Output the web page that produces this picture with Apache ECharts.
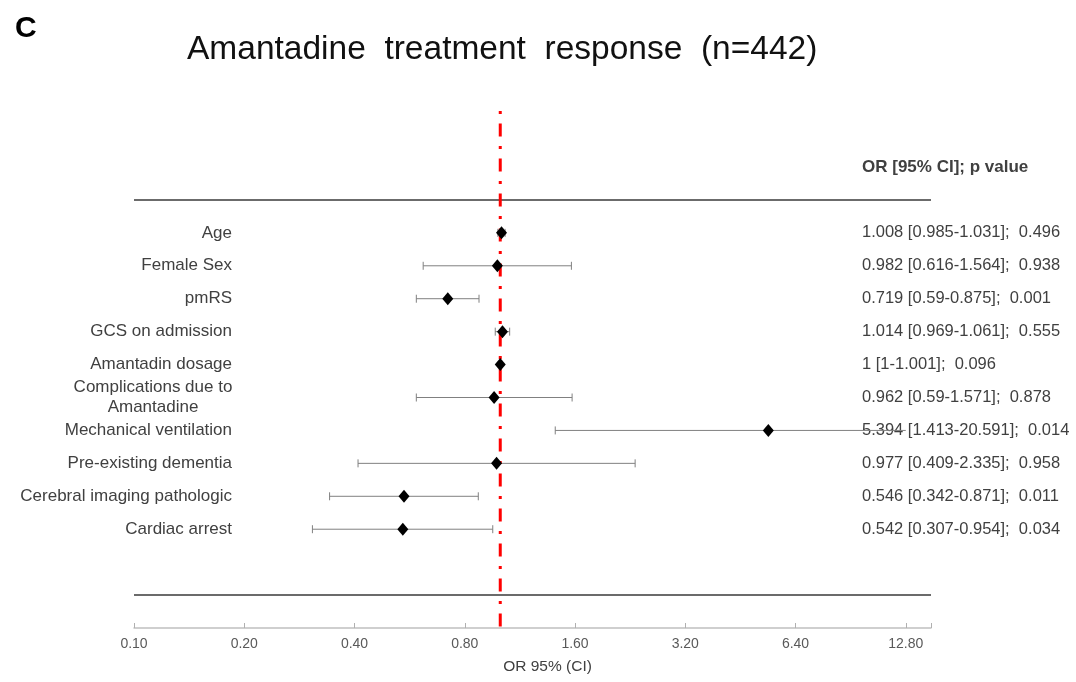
<!DOCTYPE html>
<html>
<head>
<meta charset="utf-8">
<script src="https://cdn.jsdelivr.net/npm/echarts@6/dist/echarts.min.js"></script>
<style>
html,body{margin:0;padding:0;background:#fff;}
#chart{width:1076px;height:682px;}
</style>
</head>
<body>
<div id="chart"></div>
<script>
const categories = ['Age','Female Sex','pmRS','GCS on admission','Amantadin dosage','Complications due to\nAmantadine','Mechanical ventilation','Pre-existing dementia','Cerebral imaging pathologic','Cardiac arrest'];
const orValues = [1.008,0.982,0.719,1.014,1,0.962,5.394,0.977,0.546,0.542];
const ciLow = [0.985,0.616,0.59,0.969,1,0.59,1.413,0.409,0.342,0.307];
const ciHigh = [1.031,1.564,0.875,1.061,1.001,1.571,20.591,2.335,0.871,0.954];
const pValues = ['0.496','0.938','0.001','0.555','0.096','0.878','0.014','0.958','0.011','0.034'];
const tickLabels = ['0.10','0.20','0.40','0.80','1.60','3.20','6.40','12.80'];
const AXIS_MIN = 0.1, AXIS_MAX = 15, CLIP_MAX = 12.8, REF_OR = 1;

const FONT = "'Liberation Sans', Arial, sans-serif";
const toT = v => Math.log2(v / AXIS_MIN);
const yCats = ['__header','__top'].concat(categories, ['__gap','__bottom','__axis']);

const scatterData = categories.map((c,i)=>[toT(orValues[i]), i+2]);
const ciData = categories.map((c,i)=>[toT(ciLow[i]), toT(Math.min(ciHigh[i], CLIP_MAX)), i+2, ciHigh[i] > CLIP_MAX ? 1 : 0]);

const chart = echarts.init(document.getElementById('chart'), null, {renderer:'canvas'});
const option = {
  backgroundColor:'#fff',
  animation:false,
  title:[
    {text:'C', left:10, top:9, textStyle:{fontFamily:FONT, fontSize:30, fontWeight:'bold', color:'#000'}},
    {text:'Amantadine  treatment  response  (n=442)', left:182, top:28, textStyle:{fontFamily:FONT, fontSize:33.5, fontWeight:'normal', color:'#111'}}
  ],
  grid:[
    {left:134, right:145, top:167, bottom:54},
    {left:134, right:145, top:111, bottom:54}
  ],
  xAxis:[
    {type:'value', gridIndex:0, min:0, max:toT(AXIS_MAX), interval:1,
     axisLine:{show:true, onZero:false, lineStyle:{color:'#c0c0c0', width:1.5}},
     axisTick:{show:true, inside:true, length:5, lineStyle:{color:'#b0b0b0'}},
     splitLine:{show:false},
     axisLabel:{color:'#595959', fontSize:14, fontFamily:FONT, margin:9,
       formatter:v=>{const r=Math.round(v); return Math.abs(v-r)<1e-6 && tickLabels[r]!==undefined ? tickLabels[r] : '';}},
     name:'OR 95% (CI)', nameLocation:'middle', nameGap:31,
     nameTextStyle:{fontSize:15.5, color:'#404040', fontFamily:FONT, padding:[0,0,0,30]}
    },
    {type:'value', gridIndex:1, min:0, max:toT(AXIS_MAX), show:false}
  ],
  yAxis:[
    {type:'category', gridIndex:0, data:yCats, inverse:true, boundaryGap:false, position:'left', offset:-98,
     axisLine:{show:false}, axisTick:{show:false}, splitLine:{show:false},
     axisLabel:{interval:0, margin:0, color:'#404040', fontSize:17, fontFamily:FONT,
       formatter:(name)=>{
         if (name.indexOf('__')===0) return '';
         if (name.indexOf('\n')>=0) return name.split('\n').map(s=>'{c|'+s+'}').join('\n');
         return name;
       },
       rich:{c:{width:158, align:'center', fontSize:17, color:'#404040', fontFamily:FONT, lineHeight:20}}
     }
    },
    {type:'category', gridIndex:0, data:yCats, inverse:true, boundaryGap:false, position:'right', offset:-69,
     axisLine:{show:false}, axisTick:{show:false}, splitLine:{show:false},
     axisLabel:{interval:0, margin:0, align:'left', color:'#404040', fontSize:16.5, fontFamily:FONT,
       formatter:(name)=>{
         if (name==='__header') return '{h|OR [95% CI]; p value}';
         const i = categories.indexOf(name);
         if (i<0) return '';
         return orValues[i]+' ['+ciLow[i]+'-'+ciHigh[i]+'];  '+pValues[i];
       },
       rich:{h:{fontWeight:'bold', fontSize:17, color:'#404040', fontFamily:FONT}}
     }
    },
    {type:'value', gridIndex:1, min:0, max:1, show:false}
  ],
  series:[
    {type:'custom', xAxisIndex:0, yAxisIndex:0, data:ciData, z:2,
     renderItem:(params, api)=>{
       const idx = api.value(2);
       const p1 = api.coord([api.value(0), idx]);
       const p2 = api.coord([api.value(1), idx]);
       const y = p1[1], h = 4;
       const st = {stroke:'#808080', lineWidth:1};
       const children = [
         {type:'line', shape:{x1:p1[0], y1:y, x2:p2[0], y2:y}, style:st},
         {type:'line', shape:{x1:p1[0], y1:y-h, x2:p1[0], y2:y+h}, style:st}
       ];
       if (!api.value(3)) children.push({type:'line', shape:{x1:p2[0], y1:y-h, x2:p2[0], y2:y+h}, style:st});
       return {type:'group', children};
     }
    },
    {type:'line', xAxisIndex:1, yAxisIndex:2, z:3, showSymbol:false, silent:true,
     data:[[toT(REF_OR),1],[toT(REF_OR),0]],
     lineStyle:{color:'#ff0000', width:3, type:[3,9.5,13,9.5]}
    },
    {type:'scatter', xAxisIndex:0, yAxisIndex:0, z:4, data:scatterData,
     symbol:'diamond', symbolSize:[11,13], itemStyle:{color:'#000', opacity:1},
     markLine:{silent:true, symbol:'none', label:{show:false}, z:1,
       lineStyle:{color:'#3a3a3a', width:1.5, type:'solid'},
       data:[{yAxis:1},{yAxis:13}]}
    }
  ]
};
chart.setOption(option);
</script>
</body>
</html>
